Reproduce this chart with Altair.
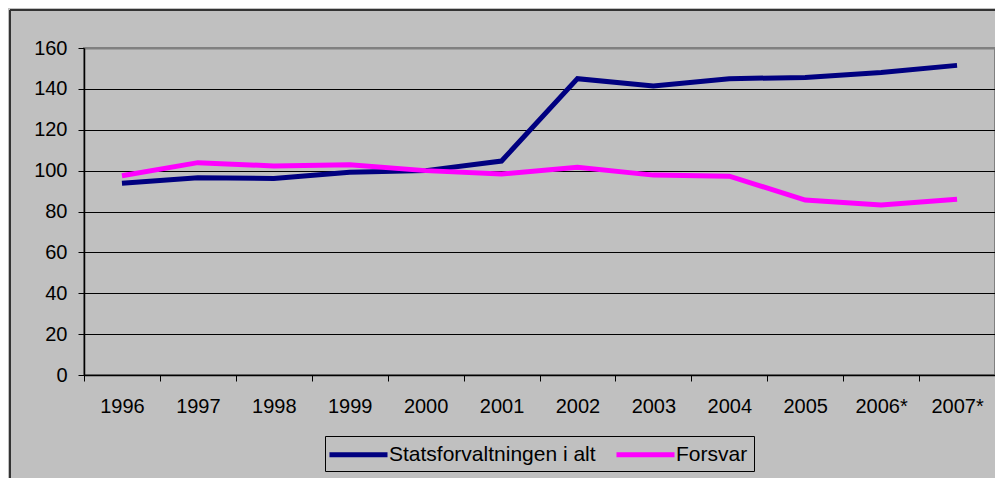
import altair as alt
import pandas as pd

years = ["1996", "1997", "1998", "1999", "2000", "2001", "2002", "2003",
         "2004", "2005", "2006*", "2007*"]
stats = [93.8, 96.5, 96.2, 99.2, 100.0, 104.7, 145.0, 141.4, 145.0, 145.6, 148.0, 151.5]
forsvar = [97.5, 103.9, 102.3, 102.9, 100.0, 98.3, 101.6, 97.8, 97.3, 85.6, 83.2, 86.0]
series_names = ["Statsforvaltningen i alt", "Forsvar"]
series_colors = ["#000080", "#FF00FF"]
y_ticks = [0, 20, 40, 60, 80, 100, 120, 140, 160]

rows = []
for i, yr in enumerate(years):
    rows.append({"year": yr, "series": series_names[0], "value": stats[i], "order": 0})
    rows.append({"year": yr, "series": series_names[1], "value": forsvar[i], "order": 1})
df = pd.DataFrame(rows)

FONT = "Liberation Sans"

lines = alt.Chart(df).mark_line(strokeWidth=5, strokeJoin="miter").encode(
    x=alt.X("year:N", sort=years, title=None,
            scale=alt.Scale(paddingInner=0, paddingOuter=0),
            axis=alt.Axis(labelAngle=0, tickBand="extent", labelFontSize=20,
                          labelFont=FONT, labelColor="black", labelPadding=15,
                          tickSize=6, tickColor="black", domainColor="black",
                          domainWidth=1.5, grid=False)),
    y=alt.Y("value:Q", title=None,
            scale=alt.Scale(domain=[0, 160], nice=False),
            axis=alt.Axis(values=y_ticks, labelFontSize=20, labelFont=FONT,
                          labelColor="black", labelPadding=11, tickSize=6,
                          tickColor="black", domainColor="black", domainWidth=1.5,
                          grid=True,
                          gridColor=alt.condition("datum.value == 160",
                                                  alt.value("#808080"),
                                                  alt.value("#000000")),
                          gridWidth=alt.condition("datum.value == 160",
                                                  alt.value(2),
                                                  alt.value(1)))),
    color=alt.Color("series:N",
                    scale=alt.Scale(domain=series_names, range=series_colors),
                    legend=alt.Legend(orient="none", legendX=241, legendY=388,
                                      direction="horizontal", title=None,
                                      symbolType="M-3,0H3", symbolSize=374,
                                      symbolOffset=15,
                                      symbolStrokeWidth=5, labelFontSize=21,
                                      labelFont=FONT, labelColor="black",
                                      strokeColor="black",
                                      fillColor="#C0C0C0", padding=6,
                                      columnPadding=10, labelOffset=18,
                                      labelLimit=400)),
    order="order:Q",
)

border_df = pd.DataFrame({"k": [0]})
left_border = alt.Chart(border_df).mark_rule(color="#333333", strokeWidth=2).encode(
    x=alt.value(-74), y=alt.value(-38), y2=alt.value(440))
top_border = alt.Chart(border_df).mark_rule(color="#333333", strokeWidth=2).encode(
    x=alt.value(-74), x2=alt.value(920), y=alt.value(-38))

chart = alt.layer(lines, left_border, top_border).properties(
    width=911, height=327,
    background="#C0C0C0",
    autosize=alt.AutoSizeParams(type="none"),
    padding={"left": 76, "top": 40, "right": 0, "bottom": 103},
).configure_view(stroke="#808080", strokeWidth=2).configure_legend(strokeWidth=1)

chart.save("out.html", embed_options={"renderer": "svg", "actions": False})
